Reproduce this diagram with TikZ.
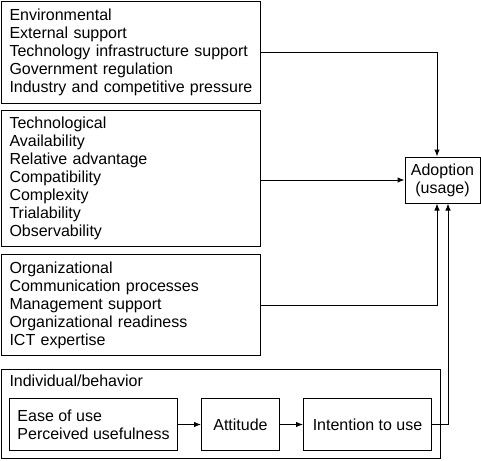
\documentclass[tikz,border=0pt]{standalone}
\usepackage{fontspec}
\setmainfont{Liberation Sans}
\usetikzlibrary{arrows.meta,positioning}

\begin{document}
\begin{tikzpicture}[x=1pt, y=-1pt, line width=1pt,
  font=\fontsize{16}{18}\selectfont,
  factor/.style={draw, anchor=north west, align=left, text width=243pt,
    inner xsep=8pt, minimum width=259pt},
  small/.style={draw, anchor=north west, align=left, minimum height=52pt},
  flow/.style={-{Latex[length=7pt,width=5.5pt]}}]
\useasboundingbox (0,0) rectangle (481,460);
% three context boxes on the left
\node[factor, minimum height=102pt] (env) at (1,1)
  {Environmental\\External support\\Technology infrastructure support\\Government regulation\\Industry and competitive pressure};
\node[factor, minimum height=136pt] (tech) at (1,110)
  {Technological\\Availability\\Relative advantage\\Compatibility\\Complexity\\Trialability\\Observability};
\node[factor, minimum height=101pt] (org) at (1,254)
  {Organizational\\Communication processes\\Management support\\Organizational readiness\\ICT expertise};
% outcome
\node[draw, align=center, minimum width=75pt, minimum height=46pt] (adopt) at (442.5,180)
  {Adoption\\(usage)};
% individual/behavior group
\node[draw, anchor=north west, minimum width=439pt, minimum height=89pt] (indiv) at (1,369) {};
\node[anchor=north west, inner xsep=8pt, inner ysep=5pt] (indivlabel) at (indiv.north west) {Individual/behavior};
\node[small, minimum width=168pt, inner xsep=7pt] (ease) at (9,398) {Ease of use\\Perceived usefulness};
\node[small, minimum width=78pt, align=center] (att) at (201,398) {Attitude};
\node[small, minimum width=128pt, align=center] (intent) at (303,398) {Intention to use};
% connectors
\draw[flow] (env.east) -| ([xshift=-5.5pt]adopt.north);
\draw[flow] (tech.east |- adopt.west) -- (adopt.west);
\draw[flow] (org.east) -| ([xshift=-5.5pt]adopt.south);
\draw[flow] (intent.east) -| ([xshift=5.5pt]adopt.south);
\draw[flow] (ease) -- (att);
\draw[flow] (att) -- (intent);
\end{tikzpicture}
\end{document}
